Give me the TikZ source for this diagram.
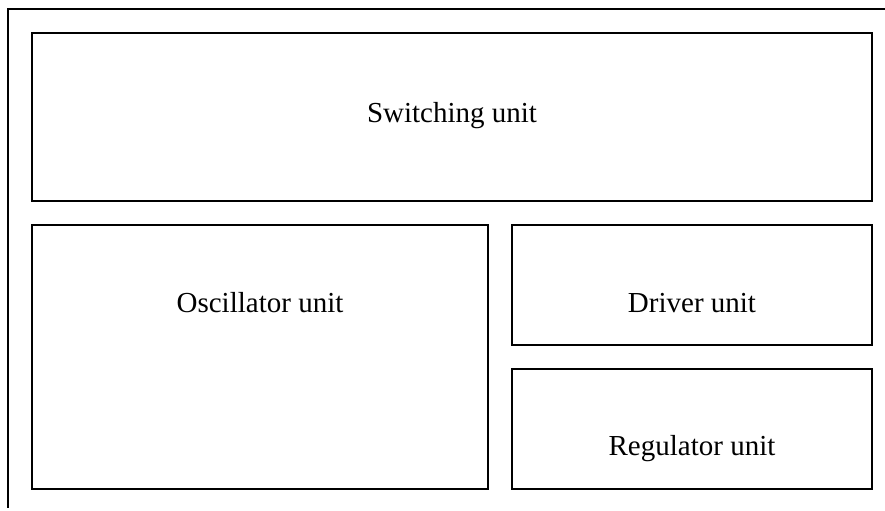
\documentclass[tikz,border=0pt]{standalone}
\usepackage{fontspec}
\setmainfont{Liberation Serif}
\begin{document}
\begin{tikzpicture}[x=0.5pt,y=-0.5pt,
  unitbox/.style={draw=black, line width=0.8pt, inner sep=0pt, outer sep=0pt, anchor=north west},
  unitlabel/.style={font=\fontsize{14.5pt}{17pt}\selectfont, anchor=base, inner sep=0pt},
  frameline/.style={draw=black, line width=0.8pt}]
  \useasboundingbox (0,0) rectangle (885,510);
  % outer frame: top edge and left edge only
  \coordinate (ftr) at (885,9);
  \coordinate (ftl) at (8,9);
  \coordinate (fbl) at (8,508);
  \draw[frameline] (ftr) -- (ftl) -- (fbl);
  % unit blocks
  \node[unitbox, minimum width=420pt, minimum height=84pt] (sw) at (32,33) {};
  \node[unitbox, minimum width=228pt, minimum height=132pt] (osc) at (32,225) {};
  \node[unitbox, minimum width=180pt, minimum height=60pt] (drv) at (512,225) {};
  \node[unitbox, minimum width=180pt, minimum height=60pt] (reg) at (512,369) {};
  % labels
  \node[unitlabel] (swl) at (452,122) {Switching unit};
  \node[unitlabel] (oscl) at (260,312) {Oscillator unit};
  \node[unitlabel] (drvl) at (692,312) {Driver unit};
  \node[unitlabel] (regl) at (692,455) {Regulator unit};
\end{tikzpicture}
\end{document}
